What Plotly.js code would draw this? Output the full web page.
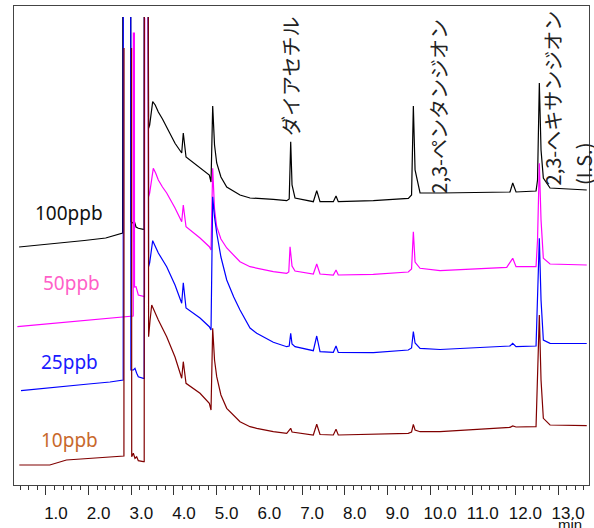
<!DOCTYPE html>
<html>
<head>
<meta charset="utf-8">
<script src="https://cdn.plot.ly/plotly-3.0.1.min.js"></script>
<style>html,body{margin:0;padding:0;background:#fff;}#chart{width:594px;height:528px;}</style>
</head>
<body>
<div id="chart"></div>
<script>
// retention time (min) and detector response (arbitrary units, offset per trace); null = off-scale gap
const time100 = [0.37,0.9,1.4,1.9,2.4,2.797,2.80,2.9,2.986,2.99,3.04,3.075,3.11,3.164,3.281,3.302,3.305,3.35,3.398,3.405,3.43,3.501,3.56,3.633,3.73,3.829,4.024,4.181,4.218,4.282,4.61,4.828,4.868,4.907,4.95,5.001,5.1,5.236,5.547,5.782,6.328,6.642,6.70,6.735,6.766,6.836,7.265,7.345,7.422,7.734,7.797,7.85,8.671,9.492,9.567,9.609,9.649,9.766,10.234,10.937,11.875,11.938,12.015,12.484,12.519,12.561,12.601,12.655,12.812,13.672];
const resp100 = [238,240,242.5,244.5,247,252,468,null,468,263.3,262,263,258,256.7,255.7,255.7,468,null,468,356.7,360,383.3,380,373,366,358.3,341.7,332,352,328,317,310,303,379,340,322,308,298,290,287,285.7,284.3,286,343.3,300,287,283.3,294.3,283.3,283.3,289,283.3,284.3,286.7,290,379,315,292,292,292.5,293,302,293,294,305,402,335,307,297,295];

const time50 = [0.33,0.9,1.5,2.0,2.5,3.045,3.048,3.072,3.075,3.11,3.164,3.281,3.31,3.314,3.36,3.398,3.405,3.43,3.515,3.57,3.633,3.73,3.829,4.024,4.181,4.218,4.282,4.61,4.828,4.868,4.907,4.95,5.001,5.1,5.236,5.547,5.782,6.328,6.642,6.69,6.72,6.766,6.836,7.265,7.345,7.422,7.734,7.797,7.85,8.671,9.49,9.567,9.609,9.649,9.766,10.234,11.797,11.938,12.015,12.484,12.519,12.561,12.601,12.655,12.812,13.672];
const resp50 = [158.3,160.5,163,164.5,166.5,169,452,452,198,198.3,190,188.3,188.3,467,null,467,288.3,292,316.7,312,305,298,292,277,263.3,280,258.3,247,238.3,235,316.7,276,258.3,246,237,223.3,218.3,213.3,211.7,213,238.3,219,214,211,221,211,210,215,210,210.7,213,216,253.3,223,216.7,214.3,217.7,226.7,218.3,218.3,245,321.7,265,226.7,221,220];

const time25 = [0.415,1.0,1.5,2.0,2.5,2.81,2.812,2.9,2.986,2.99,3.05,3.086,3.126,3.164,3.281,3.302,3.305,3.35,3.398,3.405,3.43,3.501,3.633,3.829,4.024,4.181,4.218,4.282,4.61,4.75,4.828,4.868,4.907,4.95,5.001,5.1,5.236,5.4,5.547,5.782,5.939,6.328,6.642,6.70,6.735,6.766,6.836,7.265,7.345,7.422,7.734,7.797,7.85,8.671,9.49,9.567,9.609,9.649,9.766,10.234,11.875,11.938,12.015,12.484,12.519,12.561,12.601,12.655,12.812,13.672];
const resp25 = [94.3,96.5,98.5,101,103,105,468,null,468,115,115,116.7,111.7,108.3,106.7,106.7,468,null,468,218.3,222,244.3,232,218.3,200,181.7,202.3,177,167,162,158.3,155,288.3,268,252,228,205,188,175,157,151.7,142.7,138.3,139,151.7,141,138.3,134.3,149,133.3,132.7,139,132.5,132.3,135,137,153.5,142,136.7,135.5,139,141.7,138.3,139,185,246.7,185,145,141.7,141.5];

const time10 = [0.375,1.09,1.48,2.0,2.5,2.827,2.829,2.9,3.006,3.009,3.047,3.086,3.126,3.164,3.281,3.302,3.305,3.35,3.398,3.405,3.44,3.478,3.633,3.829,4.024,4.181,4.218,4.282,4.61,4.828,4.868,4.907,4.95,5.001,5.1,5.236,5.547,5.782,5.939,6.328,6.642,6.735,6.766,7.265,7.345,7.422,7.734,7.797,7.85,9.49,9.567,9.609,9.649,9.766,10.234,11.875,11.938,12.015,12.484,12.519,12.561,12.601,12.655,12.812,13.672];
const resp10 = [20,20,25,26.5,28,29,437,null,437,28.3,31.7,26.7,28.3,24.3,23.3,23.3,468,null,468,148.3,165,180,165,148.3,128,106.7,123.3,101.7,91.7,81.7,75,156.7,125,108.3,90,76.7,63.3,58.3,56.7,53.3,51.7,56.7,53,50,60.7,50.5,50,55.7,50,51.7,53,60.7,55,53.3,53.3,57.7,59,58,58.3,105,170,105,66.7,60,59.3];

const seriesNames = ['100ppb','50ppb','25ppb','10ppb'];
const tickVals = [1,2,3,4,5,6,7,8,9,10,11,12,13];
const tickText = ['1.0','2.0','3.0','4.0','5.0','6.0','7.0','8.0','9.0','10.0','11.0','12.0','13.0'];
const peakNames = ['ダイアセチル','2,3-ペンタンジオン','2,3-ヘキサンジオン','(I.S.)'];

const lineColors = ['#000000','#ff00ff','#0000ff','#800000'];
const labelColors = ['#111111','#ff5fc8','#1a1aff','#c8682c'];
const xs = [time100,time50,time25,time10];
const ys = [resp100,resp50,resp25,resp10];

const traces = xs.map((x,i)=>({
  x:x, y:ys[i], type:'scatter', mode:'lines', name:seriesNames[i],
  line:{color:lineColors[i], width:1.2}, connectgaps:false, hoverinfo:'skip'
}));

const labelPos = [[1.54,272],[1.587,202],[1.563,123],[1.563,45]];
const annotations = seriesNames.map((s,i)=>({
  x:labelPos[i][0], y:labelPos[i][1], xref:'x', yref:'y', text:s, showarrow:false,
  xanchor:'center', yanchor:'middle', font:{family:'Noto Sans', size:19, color:labelColors[i]}
}));
const jpFont = {family:'Noto Sans CJK JP', size:20, color:'#222'};
const peakPos = [[6.72,348],[10.19,290],[12.88,299],[13.585,299]];
peakNames.forEach((p,i)=>{
  annotations.push({x:peakPos[i][0], y:peakPos[i][1], xref:'x', yref:'y', text:p, showarrow:false,
    textangle:-90, xanchor:'center', yanchor:'bottom', borderpad:0, font:jpFont});
});
annotations.push({x:0.967, y:-0.083, xref:'paper', yref:'paper', text:'min', showarrow:false,
  xanchor:'center', yanchor:'middle', borderpad:0, font:{family:'Liberation Sans', size:15, color:'#111'}});

const layout = {
  width:594, height:528,
  margin:{l:14, r:5, t:6, b:43, pad:0},
  paper_bgcolor:'#fff', plot_bgcolor:'#fff',
  showlegend:false,
  xaxis:{range:[0.251,13.725], showgrid:false, zeroline:false,
    showline:true, mirror:true, linecolor:'#444', linewidth:1,
    tickmode:'array', tickvals:tickVals, ticktext:tickText,
    ticks:'outside', ticklen:9, tickwidth:1, tickcolor:'#333',
    ticklabelshift:10, ticklabelstandoff:4,
    tickfont:{family:'Liberation Sans', size:17, color:'#111'},
    minor:{dtick:0.2, tick0:0, ticks:'outside', ticklen:4, tickwidth:1, tickcolor:'#333', showgrid:false}},
  yaxis:{range:[0,479], showgrid:false, zeroline:false, showticklabels:false, ticks:'',
    showline:true, mirror:true, linecolor:'#444', linewidth:1},
  annotations:annotations
};
Plotly.newPlot('chart', traces, layout, {staticPlot:true, displayModeBar:false});
</script>
</body>
</html>
